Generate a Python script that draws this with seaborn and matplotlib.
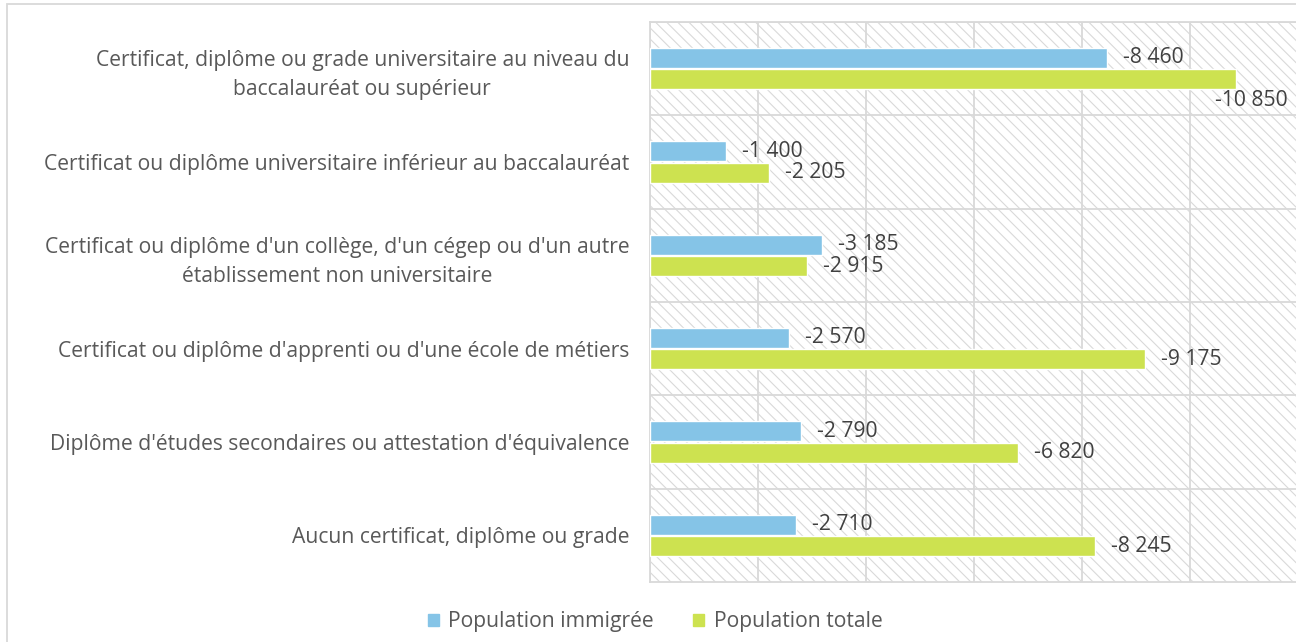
import numpy as np
import pandas as pd
import matplotlib.pyplot as plt
import seaborn as sns
from matplotlib.patches import Rectangle

categories = [
    "Certificat, diplôme ou grade universitaire au niveau du\nbaccalauréat ou supérieur",
    "Certificat ou diplôme universitaire inférieur au baccalauréat",
    "Certificat ou diplôme d'un collège, d'un cégep ou d'un autre\nétablissement non universitaire",
    "Certificat ou diplôme d'apprenti ou d'une école de métiers",
    "Diplôme d'études secondaires ou attestation d'équivalence",
    "Aucun certificat, diplôme ou grade",
]
immigres = [-8460, -1400, -3185, -2570, -2790, -2710]
totale = [-10850, -2205, -2915, -9175, -6820, -8245]
series = ["Population immigrée", "Population totale"]
colors = ["#85C4E7", "#CDE250"]

df = pd.DataFrame({
    "Niveau": categories * 2,
    "Valeur": immigres + totale,
    "Population": [series[0]] * len(categories) + [series[1]] * len(categories),
})

sns.set_theme(style="white")
plt.rcParams['font.family'] = ['Open Sans', 'DejaVu Sans']
plt.rcParams['hatch.linewidth'] = 0.8

grid_col = "#D9D9D9"
text_col = "#595959"
fs = 15.2

fig = plt.figure(figsize=(12.96, 6.42), dpi=100)
ax = fig.add_axes([650 / 1296, 1 - 582 / 642, 648 / 1296, 560 / 642])

# hatched background of the plot area
ax.add_patch(Rectangle((0, 0), 1, 1, transform=ax.transAxes, facecolor="white",
                       edgecolor=grid_col, hatch="\\\\\\", linewidth=0, zorder=0))

sns.barplot(data=df, y="Niveau", x="Valeur", hue="Population", palette=colors,
            orient="h", width=0.46, gap=0.07, ax=ax, zorder=3, saturation=1)

ax.set_xlim(0, -12000)
ax.set_ylim(len(categories) - 0.5, -0.5)
ax.set_xticks(np.arange(0, -12001, -2000))
ax.set_xticklabels([])
ax.set_yticks(np.arange(len(categories)) - 0.5, minor=True)
ax.grid(True, axis="x", which="major", color=grid_col, lw=1.3, zorder=1)
ax.grid(True, axis="y", which="minor", color=grid_col, lw=1.3, zorder=1)
ax.grid(False, axis="y", which="major")
ax.tick_params(axis="both", which="both", length=0)
ax.tick_params(axis="y", pad=15, labelsize=fs, labelcolor=text_col)
for lbl in ax.get_yticklabels():
    lbl.set_multialignment("center")
    lbl.set_linespacing(1.5)
for s in ax.spines.values():
    s.set_color(grid_col)
    s.set_linewidth(1.3)
ax.set_xlabel("")
ax.set_ylabel("")

# value labels (the longest one doesn't fit, so it goes under its bar)
for cont in ax.containers:
    for bar in cont:
        v = bar.get_width()
        txt = f"{int(round(v)):,}".replace(",", " ")
        yc = bar.get_y() + bar.get_height() / 2
        if v < -10000:
            off = (-21, -21)
        else:
            off = (16, 0)
        ax.annotate(txt, xy=(v, yc), xytext=off, textcoords="offset pixels",
                    ha="left", va="center", fontsize=fs, color="#404040", zorder=4)

ax.get_legend().remove()
handles = [Rectangle((0, 0), 1, 1, color=c) for c in colors]
fig.legend(handles, series, loc="center", bbox_to_anchor=(655 / 1296, 1 - 622 / 642),
           ncol=2, frameon=False, fontsize=fs, labelcolor=text_col,
           handlelength=0.52, handleheight=0.52, handletextpad=0.43, columnspacing=1.9)

# light border around the figure
fig.patches.append(Rectangle((7 / 1296, -0.1), 1.2, 1 - 4 / 642 + 0.1,
                             transform=fig.transFigure, fill=False,
                             edgecolor=grid_col, lw=1.3))

fig.savefig("out.png", dpi=100)
